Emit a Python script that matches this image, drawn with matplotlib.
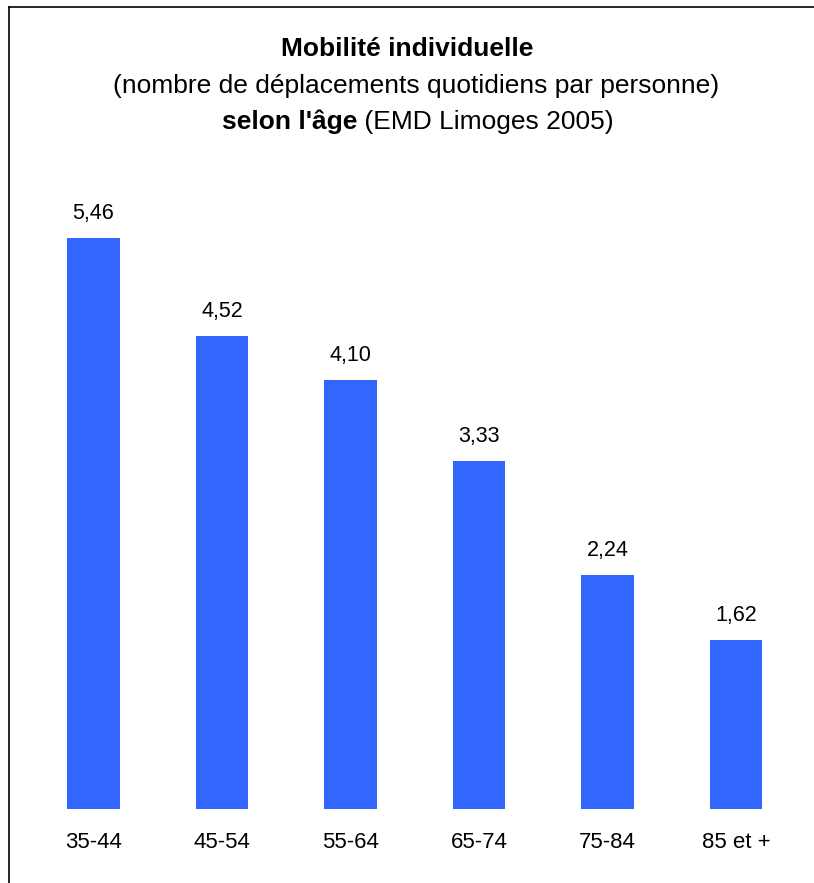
import matplotlib
matplotlib.use("Agg")
import matplotlib.pyplot as plt

categories = ["35-44", "45-54", "55-64", "65-74", "75-84", "85 et +"]
values = [5.46, 4.52, 4.10, 3.33, 2.24, 1.62]
value_labels = ["5,46", "4,52", "4,10", "3,33", "2,24", "1,62"]

plt.rcParams['font.family'] = ['Liberation Sans', 'DejaVu Sans']

W, H = 814, 883
fig = plt.figure(figsize=(W/100, H/100), dpi=100)

# axes in pixel coords
ax_left, ax_right = 29.25, 800.25
ax_bottom = 809
ax_top = 809 - 6 * 104.6
ax = fig.add_axes([ax_left/W, 1 - ax_bottom/H, (ax_right-ax_left)/W, (ax_bottom-ax_top)/H])
x = list(range(len(categories)))
ax.bar(x, values, width=0.41, color="#3366FF")
ax.set_xlim(-0.5, len(categories)-0.5)
ax.set_ylim(0, 6)
for s in ax.spines.values():
    s.set_visible(False)
ax.set_yticks([])
ax.set_xticks(x)
ax.set_xticklabels(categories, fontsize=16)
ax.tick_params(axis='x', length=0, pad=16.5)
for xi, v, lab in zip(x, values, value_labels):
    ax.annotate(lab, (xi, v), xytext=(0, 10), textcoords='offset points',
                ha='center', va='bottom', fontsize=15.5)

# border (top & left visible)
fig.add_artist(plt.Line2D([9/W, 9/W], [0, 1 - 7/H], color='black', lw=1.2))
fig.add_artist(plt.Line2D([9/W, 1], [1 - 7/H, 1 - 7/H], color='black', lw=1.2))

fig.text(407.5/W, 1 - 49/H, "Mobilité individuelle", ha='center', va='center',
         fontsize=19, fontweight='bold')
fig.text(416/W, 1 - 86/H, "(nombre de déplacements quotidiens par personne)",
         ha='center', va='center', fontsize=19)

# third line: mixed bold / normal
renderer = fig.canvas.get_renderer()
t1 = fig.text(0, 1 - 122/H, "selon l'âge", ha='left', va='center', fontsize=19, fontweight='bold')
t2 = fig.text(0, 1 - 122/H, " (EMD Limoges 2005)", ha='left', va='center', fontsize=19)
w1 = t1.get_window_extent(renderer).width
w2 = t2.get_window_extent(renderer).width
total = w1 + w2
start = 418 - total/2
t1.set_x(start/W)
t2.set_x((start + w1)/W)

fig.savefig("out.png", dpi=100)
